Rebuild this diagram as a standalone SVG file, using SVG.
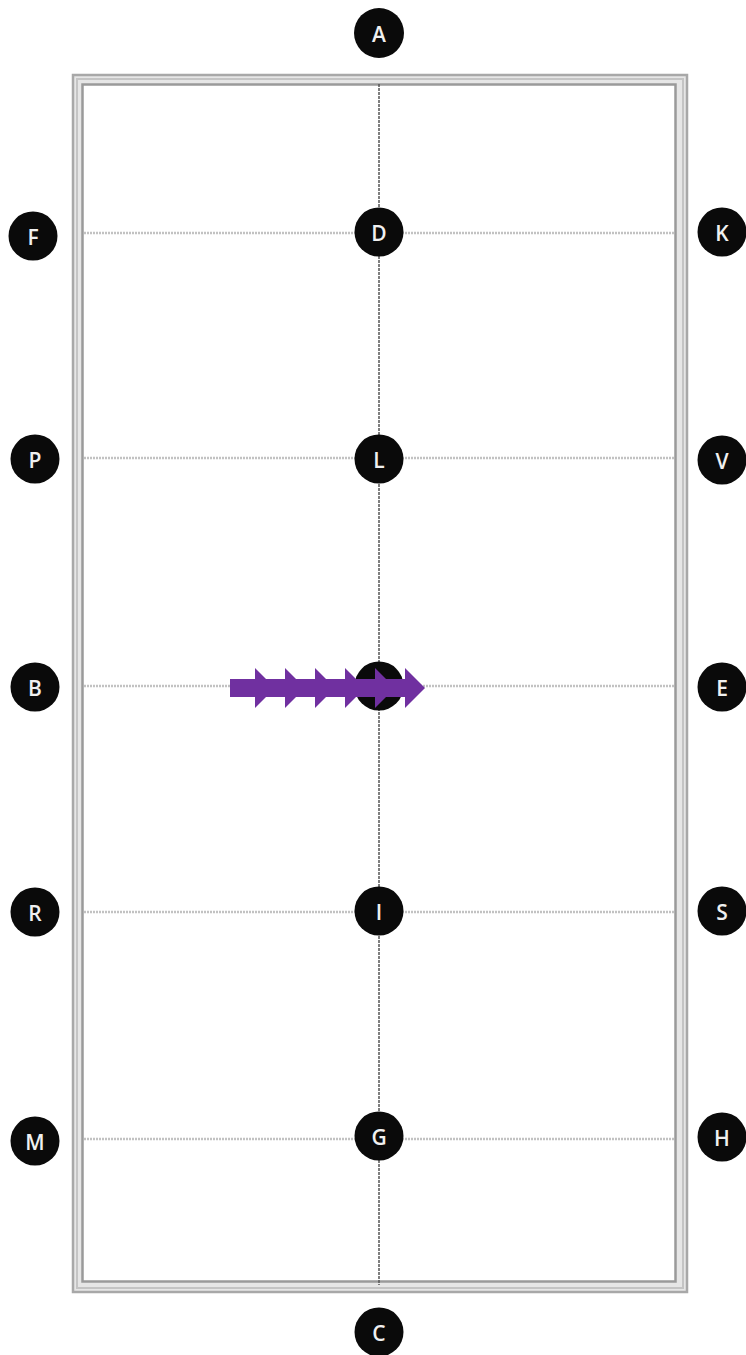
<svg xmlns="http://www.w3.org/2000/svg" width="746" height="1355" viewBox="0 0 746 1355">
<style>
.n circle{fill:#0a0a0a}
.n text{fill:#f0f0f0;font-family:"Open Sans","Noto Sans","Liberation Sans",sans-serif;font-weight:600;font-size:21px;text-anchor:middle;dominant-baseline:central}
.h{stroke:#c2c2c2;stroke-width:2.5;stroke-dasharray:2 1;fill:none}
.v{stroke:#555;stroke-width:1.5;stroke-dasharray:3 1;fill:none}
</style>
<rect width="746" height="1355" fill="#fff"/>
<g id="frame">
<rect x="73" y="75" width="614" height="1217" fill="#e6e6e6" stroke="#a8a8a8" stroke-width="2.5"/>
<rect x="77" y="79" width="606" height="1209" fill="none" stroke="#c4c4c4" stroke-width="2"/>
<rect x="82.5" y="84.5" width="593" height="1197" fill="#fff" stroke="#9a9a9a" stroke-width="2.5"/>
</g>
<g id="connectors">
<line class="h" x1="84" y1="233" x2="674" y2="233"/>
<line class="h" x1="84" y1="458" x2="674" y2="458"/>
<line class="h" x1="84" y1="686" x2="674" y2="686"/>
<line class="h" x1="84" y1="912" x2="674" y2="912"/>
<line class="h" x1="84" y1="1139" x2="674" y2="1139"/>
<line class="v" x1="379" y1="84" x2="379" y2="1285"/>
</g>
<g id="A" class="n"><circle cx="379" cy="33" r="25"/><text x="379" y="34">A</text></g>
<g id="F" class="n"><circle cx="33" cy="236" r="24.5"/><text x="33" y="237">F</text></g>
<g id="D" class="n"><circle cx="379" cy="232" r="24.5"/><text x="379" y="233">D</text></g>
<g id="K" class="n"><circle cx="722" cy="232" r="24.5"/><text x="722" y="233">K</text></g>
<g id="P" class="n"><circle cx="35" cy="459" r="24.5"/><text x="35" y="460">P</text></g>
<g id="L" class="n"><circle cx="379" cy="459" r="24.5"/><text x="379" y="460">L</text></g>
<g id="V" class="n"><circle cx="722" cy="460" r="24.5"/><text x="722" y="461">V</text></g>
<g id="B" class="n"><circle cx="35" cy="687" r="24.5"/><text x="35" y="688">B</text></g>
<g id="center" class="n"><circle cx="379" cy="686" r="24.5"/></g>
<g id="E" class="n"><circle cx="722" cy="687" r="24.5"/><text x="722" y="688">E</text></g>
<g id="R" class="n"><circle cx="35" cy="912" r="24.5"/><text x="35" y="913">R</text></g>
<g id="I" class="n"><circle cx="379" cy="911" r="24.5"/><text x="379" y="912">I</text></g>
<g id="S" class="n"><circle cx="722" cy="911" r="24.5"/><text x="722" y="912">S</text></g>
<g id="M" class="n"><circle cx="35" cy="1141" r="24.5"/><text x="35" y="1142">M</text></g>
<g id="G" class="n"><circle cx="379" cy="1136" r="24.5"/><text x="379" y="1137">G</text></g>
<g id="H" class="n"><circle cx="722" cy="1137" r="24.5"/><text x="722" y="1138">H</text></g>
<g id="C" class="n"><circle cx="379" cy="1332" r="24.5"/><text x="379" y="1333">C</text></g>
<g id="arrow" fill="#7030a0">
<rect x="230" y="679" width="180" height="18"/>
<polygon points="255,668 275,688 255,708"/>
<polygon points="285,668 305,688 285,708"/>
<polygon points="315,668 335,688 315,708"/>
<polygon points="345,668 365,688 345,708"/>
<polygon points="375,668 395,688 375,708"/>
<polygon points="405,668 425,688 405,708"/>
</g>
</svg>
